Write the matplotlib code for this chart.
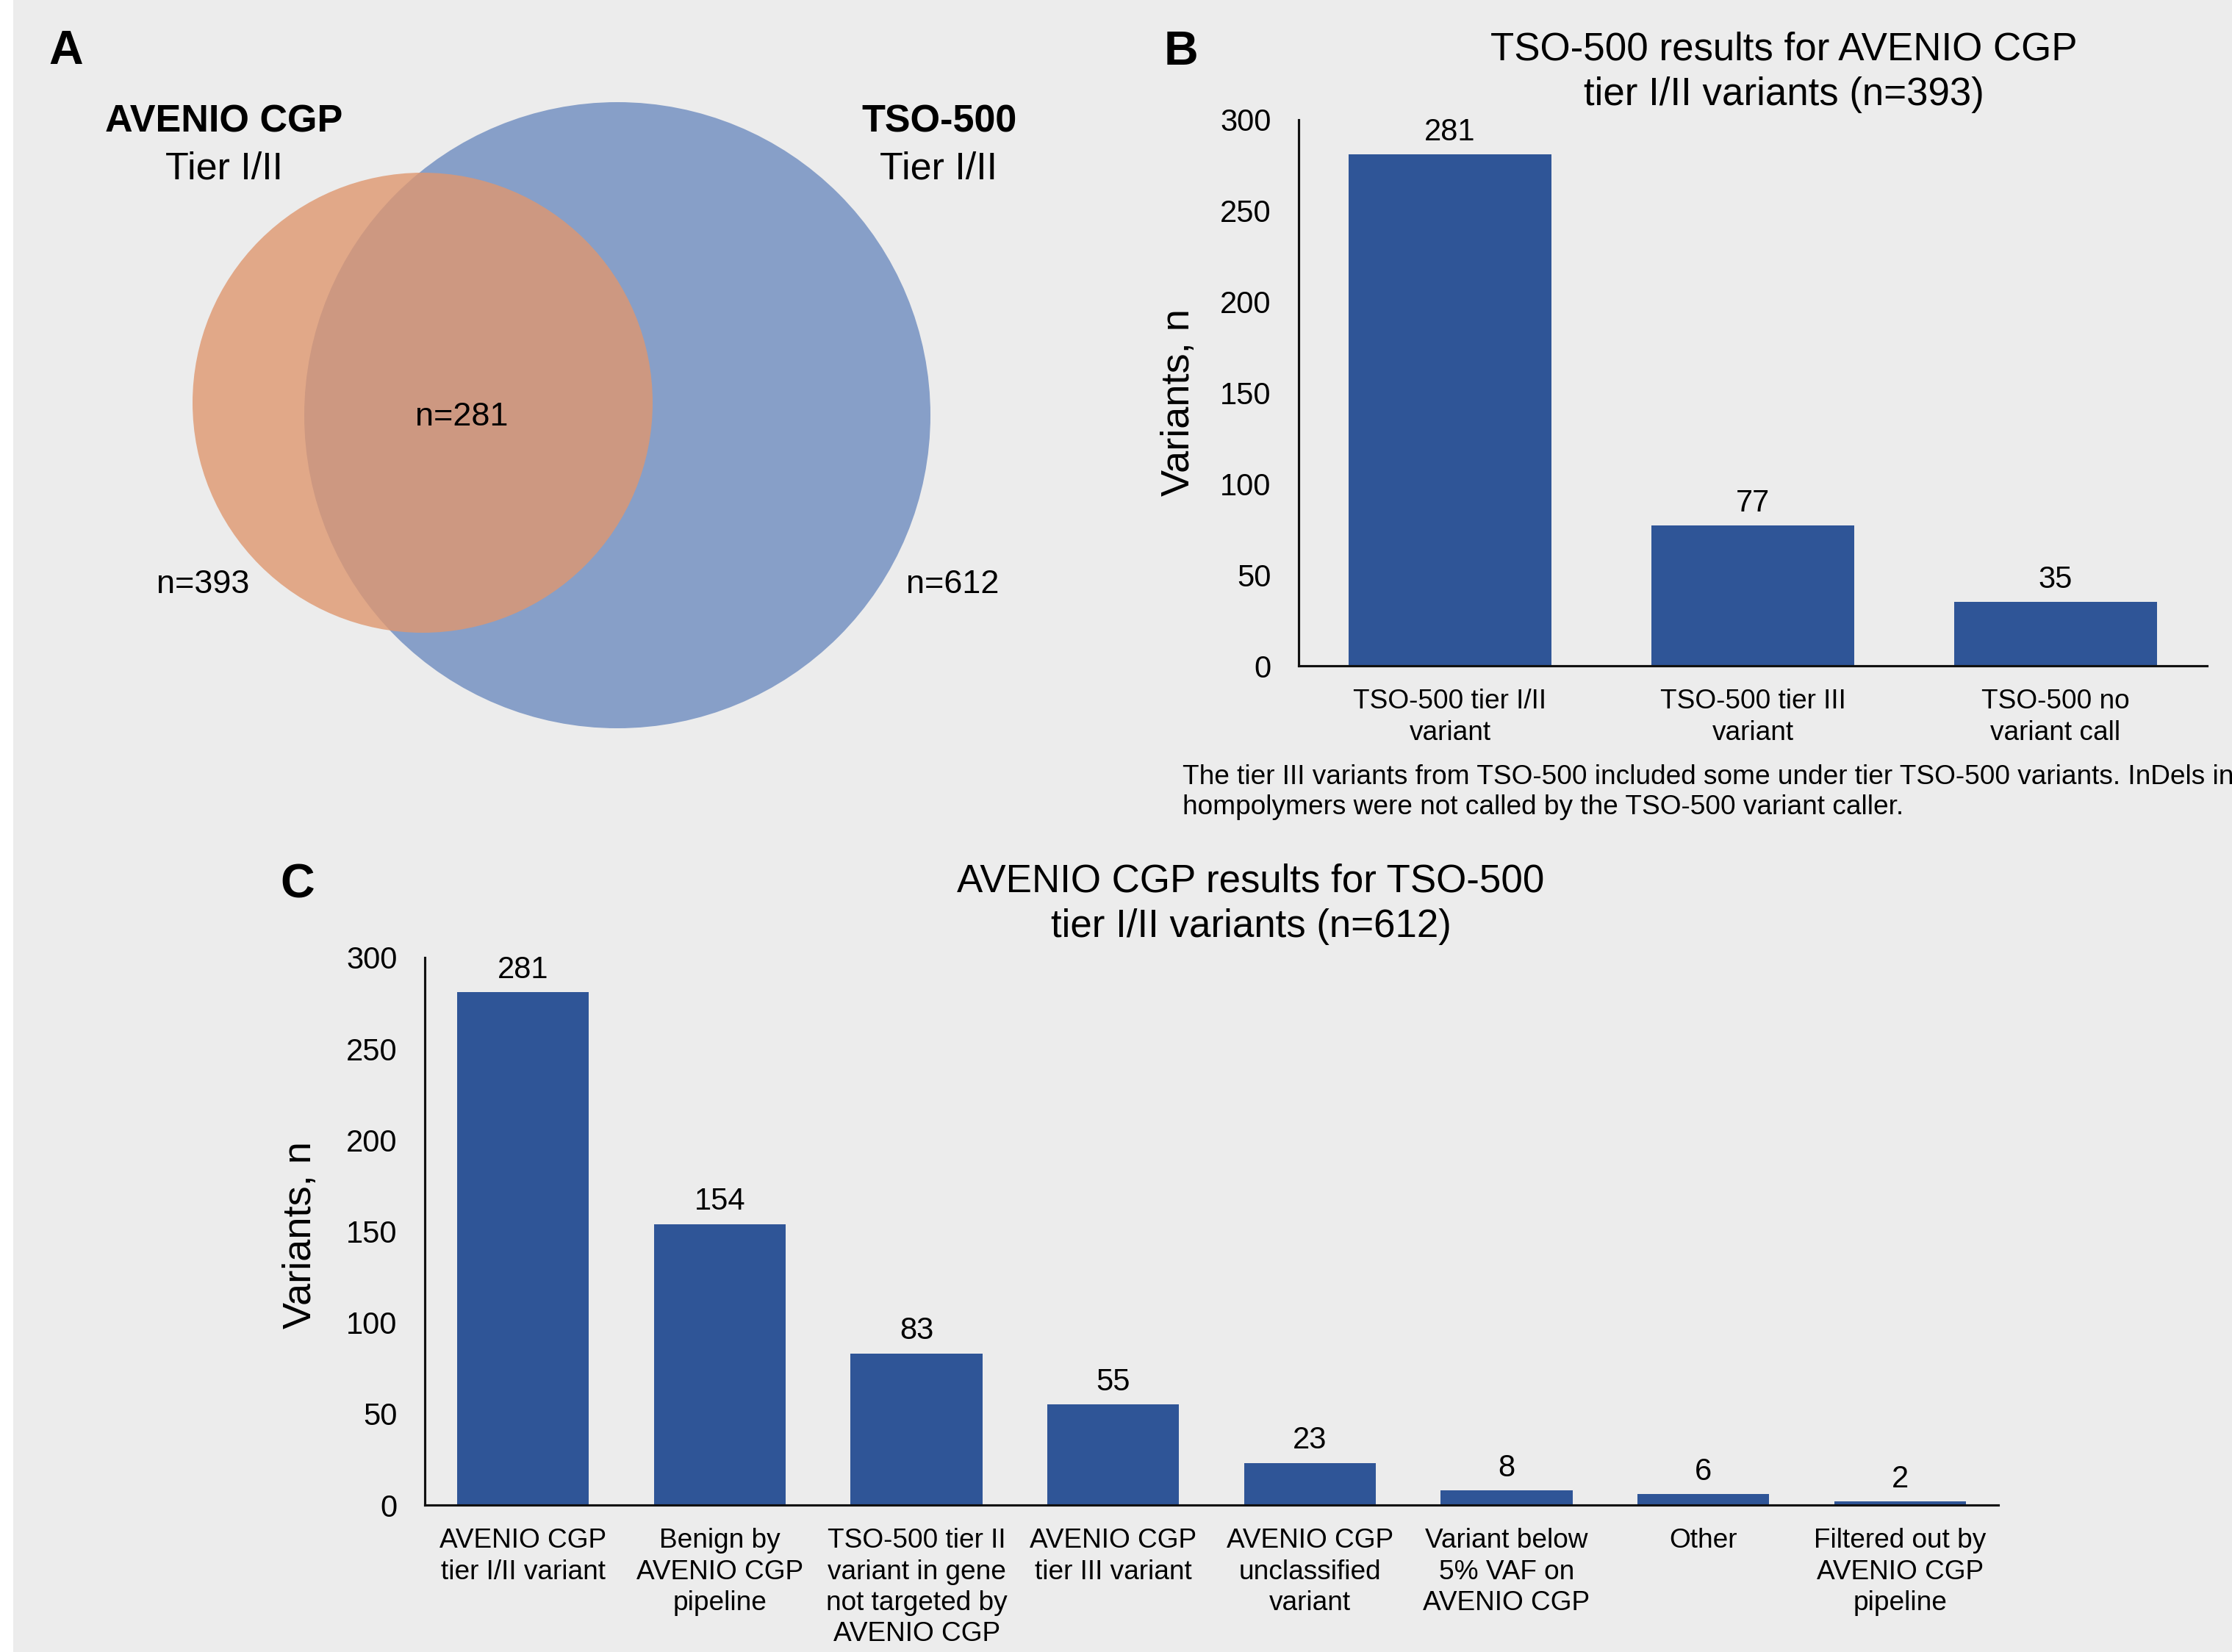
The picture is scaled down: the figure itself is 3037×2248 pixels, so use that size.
import matplotlib
matplotlib.use("Agg")
import matplotlib.pyplot as plt
from matplotlib.patches import Circle, Rectangle

plt.rcParams['font.family'] = ['Liberation Sans', 'DejaVu Sans']

# ---------------- data ----------------
venn_left_title = "AVENIO CGP"
venn_right_title = "TSO-500"
venn_sub = "Tier I/II"
venn_left_n = 393
venn_right_n = 612
venn_overlap_n = 281

b_title = ["TSO-500 results for AVENIO CGP", "tier I/II variants (n=393)"]
b_categories = ["TSO-500 tier I/II\nvariant", "TSO-500 tier III\nvariant", "TSO-500 no\nvariant call"]
b_values = [281, 77, 35]
b_note = ["The tier III variants from TSO-500 included some under tier TSO-500 variants. InDels in",
          "hompolymers were not called by the TSO-500 variant caller."]

c_title = ["AVENIO CGP results for TSO-500", "tier I/II variants (n=612)"]
c_categories = ["AVENIO CGP\ntier I/II variant", "Benign by\nAVENIO CGP\npipeline",
                "TSO-500 tier II\nvariant in gene\nnot targeted by\nAVENIO CGP",
                "AVENIO CGP\ntier III variant", "AVENIO CGP\nunclassified\nvariant",
                "Variant below\n5% VAF on\nAVENIO CGP", "Other",
                "Filtered out by\nAVENIO CGP\npipeline"]
c_values = [281, 154, 83, 55, 23, 8, 6, 2]

y_ticks = [0, 50, 100, 150, 200, 250, 300]
y_label = "Variants, n"

# ---------------- style ----------------
W, H = 3037, 2248
DPI = 300
BG = "#ECECEC"
BAR = "#2F5597"
ORANGE = "#DF976F"
BLUE = "#879FC8"

fig = plt.figure(figsize=(W / DPI, H / DPI), dpi=DPI, facecolor=BG)


def rect(x0, y0, x1, y1):
    return [x0 / W, 1 - y1 / H, (x1 - x0) / W, (y1 - y0) / H]


def ftext(x, y, s, **kw):
    return fig.text(x / W, 1 - y / H, s, **kw)


fig.patches.append(Rectangle((0, 0), 18 / W, 1, transform=fig.transFigure,
                             facecolor="white", edgecolor="none", zorder=0))

# ---------------- panel A: Venn ----------------
axv = fig.add_axes([0, 0, 1, 1], facecolor="none")
axv.set_xlim(0, W)
axv.set_ylim(H, 0)
axv.axis("off")
axv.add_patch(Circle((840, 565), 426, facecolor=BLUE, edgecolor="none", zorder=1))
axv.add_patch(Circle((575, 548), 313, facecolor=ORANGE, edgecolor="none", alpha=0.8, zorder=2))

ftext(90, 87, "A", fontsize=15.5, fontweight="bold", ha="center", va="baseline")
ftext(305, 179, venn_left_title, fontsize=12.5, fontweight="bold", ha="center", va="baseline")
ftext(305, 244, venn_sub, fontsize=12.5, ha="center", va="baseline")
ftext(1278, 179, venn_right_title, fontsize=12.5, fontweight="bold", ha="center", va="baseline")
ftext(1277, 244, venn_sub, fontsize=12.5, ha="center", va="baseline")
ftext(628, 579, f"n={venn_overlap_n}", fontsize=10.8, ha="center", va="baseline")
ftext(276, 807, f"n={venn_left_n}", fontsize=10.8, ha="center", va="baseline")
ftext(1296, 807, f"n={venn_right_n}", fontsize=10.8, ha="center", va="baseline")


def bar_panel(pos, cats, vals):
    ax = fig.add_axes(pos, facecolor="none")
    x = list(range(len(vals)))
    bars = ax.bar(x, vals, width=0.67, color=BAR, zorder=2)
    ax.bar_label(bars, labels=[str(v) for v in vals], padding=2.5, fontsize=10)
    ax.set_xlim(-0.5, len(vals) - 0.5)
    ax.set_ylim(0, 300)
    ax.set_yticks(y_ticks)
    ax.set_xticks(x)
    ax.set_xticklabels(cats, fontsize=8.9, linespacing=1.27)
    ax.tick_params(axis="y", length=0, pad=9, labelsize=10)
    ax.tick_params(axis="x", length=0, pad=7.5)
    for s in ["top", "right"]:
        ax.spines[s].set_visible(False)
    for s in ["left", "bottom"]:
        ax.spines[s].set_linewidth(0.75)
        ax.spines[s].set_color("#111111")
    return ax


# ---------------- panel B ----------------
axb = bar_panel(rect(1767, 163, 3003, 906), b_categories, b_values)
ftext(1607, 88, "B", fontsize=15.5, fontweight="bold", ha="center", va="baseline")
ftext(2427, 81, b_title[0], fontsize=12.7, ha="center", va="baseline")
ftext(2427, 143, b_title[1], fontsize=12.7, ha="center", va="baseline")
ftext(1604, 548, y_label, fontsize=13, rotation=90, ha="center", va="center")
ftext(1609, 1067, b_note[0], fontsize=8.9, ha="left", va="baseline")
ftext(1609, 1108, b_note[1], fontsize=8.9, ha="left", va="baseline")

# ---------------- panel C ----------------
axc = bar_panel(rect(578, 1303, 2719, 2048), c_categories, c_values)
ftext(405, 1221, "C", fontsize=15.5, fontweight="bold", ha="center", va="baseline")
ftext(1702, 1213, c_title[0], fontsize=12.7, ha="center", va="baseline")
ftext(1702, 1275, c_title[1], fontsize=12.7, ha="center", va="baseline")
ftext(409, 1681, y_label, fontsize=13, rotation=90, ha="center", va="center")

fig.savefig("out.png", dpi=DPI, facecolor=BG)
